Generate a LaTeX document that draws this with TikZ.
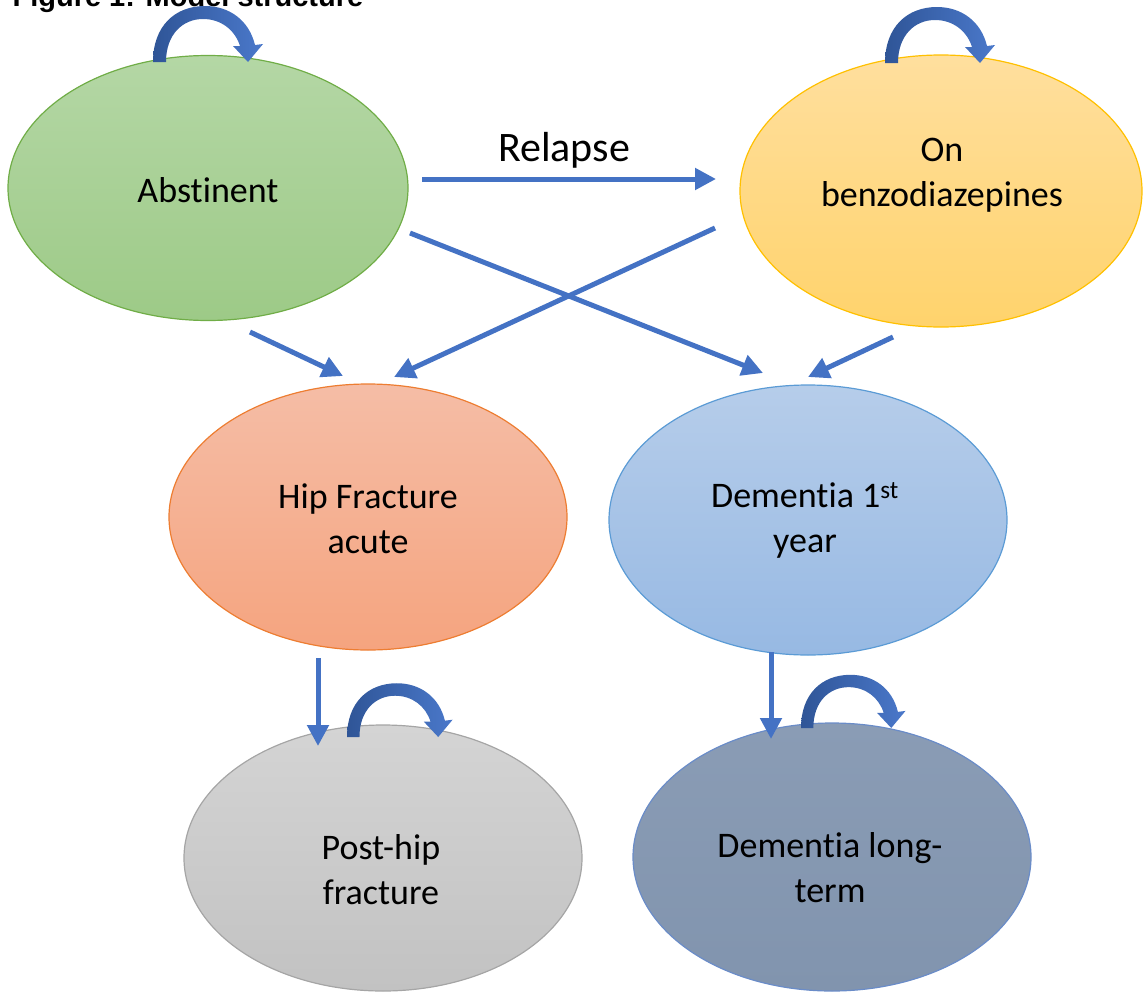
\documentclass[tikz,border=0pt]{standalone}
\usepackage{fontspec}
\setmainfont{Carlito}[Ligatures=NoCommon]
\newfontfamily\titlefont{Liberation Sans}
\usetikzlibrary{arrows.meta,shapes.geometric}
\definecolor{grT}{HTML}{B4D7A5}\definecolor{grB}{HTML}{9DCA87}\definecolor{grE}{HTML}{70AD47}
\definecolor{yeT}{HTML}{FFDF9E}\definecolor{yeB}{HTML}{FFD36C}\definecolor{yeE}{HTML}{FFC000}
\definecolor{saT}{HTML}{F5BDA6}\definecolor{saB}{HTML}{F5A47F}\definecolor{saE}{HTML}{ED7D31}
\definecolor{blT}{HTML}{B6CDEA}\definecolor{blB}{HTML}{97B9E3}\definecolor{blE}{HTML}{5B9BD5}
\definecolor{gyT}{HTML}{D4D4D4}\definecolor{gyB}{HTML}{C2C2C2}\definecolor{gyE}{HTML}{A5A5A5}
\definecolor{slT}{HTML}{8A9CB5}\definecolor{slB}{HTML}{8194AE}\definecolor{slE}{HTML}{6A8CC8}
\definecolor{arw}{HTML}{4472C4}\definecolor{loopL}{HTML}{2F5597}\definecolor{loopR}{HTML}{4A78CA}
\begin{document}
\begin{tikzpicture}[x=1pt,y=-1pt,
  stateell/.style={ellipse, draw=#1E, line width=1.2pt, top color=#1T, bottom color=#1B,
    inner sep=0pt, minimum width=398pt, minimum height=266pt},
  lbl/.style={align=center, font=\fontsize{36}{45}\selectfont, text=black},
  flow/.style={draw=arw, line width=5pt, -{Triangle[length=21pt,width=21pt]}},
  selfloop/.pic={
    \shade[left color=loopL, right color=loopR]
      (0,0) -- (13,0) .. controls (13,-28) and (30,-43) .. (50,-43)
      .. controls (68,-43) and (82,-32) .. (87,-16) -- (80,-16) -- (95,0) -- (110,-18) -- (102,-17)
      .. controls (96,-42) and (76,-56) .. (52,-56) .. controls (22,-56) and (0,-36) .. (0,0) -- cycle;
  }]
\clip (0,0) rectangle (1143,993);
\node[anchor=base west, font=\titlefont\bfseries\fontsize{29}{29}\selectfont] (title) at (9,6) {Figure 1: Model structure};

\node[stateell=gr, minimum width=400pt, minimum height=265pt] (abs) at (208,188) {};
\node[stateell=ye, minimum width=402pt, minimum height=272pt] (benzo) at (941,191) {};
\node[stateell=sa] (hip) at (368,517) {};
\node[stateell=bl, minimum height=270pt] (dem) at (808,520) {};
\node[stateell=gy] (post) at (383,858) {};
\node[stateell=sl, minimum height=268pt] (demlt) at (832,857) {};

\node[lbl] (tabs) at (208,190) {Abstinent};
\node[lbl] (tbenzo) at (942,175) {On\\benzodiazepines};
\node[lbl] (thip) at (368,519) {Hip Fracture\\acute};
\node[lbl] (tdem) at (805,520) {Dementia 1\textsuperscript{st}\\year};
\node[lbl] (tpost) at (381,870) {Post-hip\\fracture};
\node[lbl] (tdemlt) at (830,868) {Dementia long-\\term};
\node[lbl, font=\fontsize{42}{50}\selectfont, anchor=base] (trel) at (564,161) {Relapse};

\coordinate (r1) at (422,179); \coordinate (r2) at (716,179);
\coordinate (a1) at (410,233); \coordinate (a2) at (763,373);
\coordinate (b1) at (715,228); \coordinate (b2) at (394,377);
\coordinate (c1) at (250,332); \coordinate (c2) at (343,376);
\coordinate (d1) at (893,337); \coordinate (d2) at (808,377);
\coordinate (e1) at (318,658); \coordinate (e2) at (318,746);
\coordinate (f1) at (771,652); \coordinate (f2) at (771,739);
\draw[flow] (r1) -- (r2);
\draw[flow] (a1) -- (a2);
\draw[flow] (b1) -- (b2);
\draw[flow] (c1) -- (c2);
\draw[flow] (d1) -- (d2);
\draw[flow] (e1) -- (e2);
\draw[flow] (f1) -- (f2);

\pic (loopabs) at (153,62) {selfloop};
\pic (loopbenzo) at (885,63) {selfloop};
\pic[scale=0.96] (looppost) at (347,737) {selfloop};
\pic[scale=0.95] (loopdemlt) at (801,728) {selfloop};
\end{tikzpicture}
\end{document}
